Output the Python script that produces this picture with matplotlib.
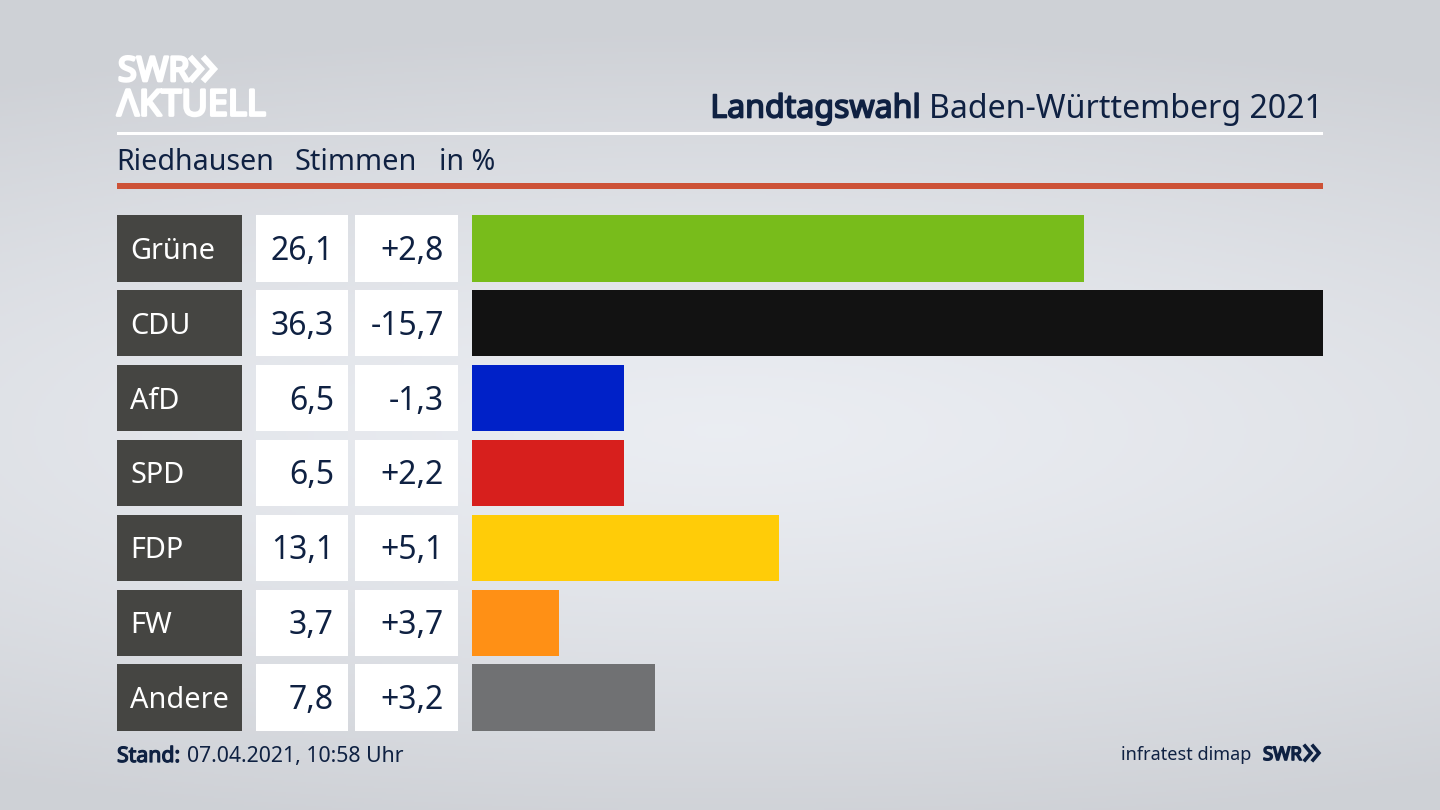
import numpy as np
from matplotlib import pyplot as plt
from matplotlib import patheffects as pe
from matplotlib.patches import Rectangle

plt.rcParams['font.family'] = ['Noto Sans', 'DejaVu Sans']

parties = ["Grüne", "CDU", "AfD", "SPD", "FDP", "FW", "Andere"]
votes = [26.1, 36.3, 6.5, 6.5, 13.1, 3.7, 7.8]
changes = ["+2,8", "-15,7", "-1,3", "+2,2", "+5,1", "+3,7", "+3,2"]
bar_colors = ["#78bc1b", "#121212", "#0021c8", "#d71f1d", "#ffcc08", "#ff9015", "#707173"]

NAVY = "#0f2142"
W, H = 1440, 810
ROW_TOP, ROW_STEP, ROW_H = 215, 74.9, 66.5


def bold(color, lw=1.0):
    # the installed Noto Sans has no bold cut here, so thicken the outline
    return [pe.withStroke(linewidth=lw, foreground=color)]


fig = plt.figure(figsize=(14.4, 8.1), dpi=100)

# background + all decoration in pixel coordinates
bg = fig.add_axes([0, 0, 1, 1])
bg.set_xlim(0, W)
bg.set_ylim(H, 0)
bg.axis("off")
yy, xx = np.mgrid[0:H:2, 0:W:2]
dist = np.sqrt(((xx - 720) / 1500) ** 2 + ((yy - 430) / 400) ** 2)
dist = np.clip(dist, 0, 1)
shade = 0.93 - 0.11 * dist ** 1.3
rgb = np.dstack([shade - 0.01, shade, shade + 0.02])
bg.imshow(np.clip(rgb, 0, 1), extent=(0, W, H, 0), aspect="auto", zorder=0)

# header lines
bg.add_patch(Rectangle((117, 132), 1206, 3, color="white", lw=0))
bg.add_patch(Rectangle((117, 183), 1206, 6, color="#cd5237", lw=0))

# swr logo
bg.text(118, 72, "SWR", color="white", fontsize=24.5, ha="left", va="center", path_effects=bold("white", 2.0))
bg.text(117, 106.5, "ΛKTUELL", color="white", fontsize=26, ha="left", va="center", path_effects=bold("white", 2.0))
for x0 in (192, 205):
    bg.plot([x0, x0 + 9, x0], [59, 69, 79], color="white", lw=4.4, solid_joinstyle="miter")

# titles
bg.text(1323, 109, "Baden-Württemberg 2021", color=NAVY, fontsize=23.1, ha="right", va="center")
bg.text(921, 109, "Landtagswahl", color=NAVY, fontsize=23.1, ha="right", va="center", path_effects=bold(NAVY, 1.2))
bg.text(116, 163, "Riedhausen", color=NAVY, fontsize=20.6, ha="left", va="center")
bg.text(295, 163, "Stimmen", color=NAVY, fontsize=20.8, ha="left", va="center")
bg.text(439, 163, "in %", color=NAVY, fontsize=20.6, ha="left", va="center")

# table cells
for i, party in enumerate(parties):
    top = ROW_TOP + i * ROW_STEP
    mid = top + ROW_H / 2
    bg.add_patch(Rectangle((117, top), 124.5, ROW_H, color="#454542", lw=0))
    bg.add_patch(Rectangle((255.5, top), 92.5, ROW_H, color="white", lw=0))
    bg.add_patch(Rectangle((355, top), 103, ROW_H, color="white", lw=0))
    bg.text(130, mid + 3, party, color="white", fontsize=20.8, ha="left", va="center")
    bg.text(334, mid + 3, f"{votes[i]:.1f}".replace(".", ","), color=NAVY, fontsize=23, ha="right", va="center")
    bg.text(444, mid + 3, changes[i], color=NAVY, fontsize=23, ha="right", va="center")

# footer
bg.text(117, 756.5, "Stand:", color=NAVY, fontsize=15.3, ha="left", va="center", path_effects=bold(NAVY, 0.9))
bg.text(187, 756.5, "07.04.2021, 10:58 Uhr", color=NAVY, fontsize=15.3, ha="left", va="center")
bg.text(1251, 755.5, "infratest dimap", color=NAVY, fontsize=13, ha="right", va="center")
bg.text(1263, 755, "SWR", color=NAVY, fontsize=13.3, ha="left", va="center", path_effects=bold(NAVY, 1.2))
for x0 in (1305, 1313):
    bg.plot([x0, x0 + 6, x0], [746, 753, 760], color=NAVY, lw=2.6, solid_joinstyle="miter")

# bars
ax = fig.add_axes([472 / W, 1 - (ROW_TOP + 6 * ROW_STEP + ROW_H) / H,
                   (1323 - 472) / W, (6 * ROW_STEP + ROW_H) / H])
ax.patch.set_alpha(0)
ax.barh(range(len(parties)), votes, height=ROW_H / ROW_STEP, color=bar_colors)
ax.set_xlim(0, max(votes))
ax.set_ylim(6 + ROW_H / ROW_STEP / 2, -ROW_H / ROW_STEP / 2)
ax.axis("off")

fig.savefig("out.png", dpi=100)
